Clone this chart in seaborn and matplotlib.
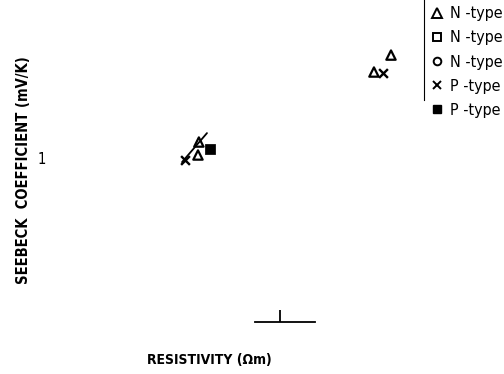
import numpy as np
import pandas as pd
import matplotlib
matplotlib.use("Agg")
import matplotlib.pyplot as plt
from matplotlib.lines import Line2D
import seaborn as sns

# Data (resistivity in Ohm m, Seebeck coefficient in mV/K)
ntri_res = [67.6, 35.4, 0.046, 0.0445]
ntri_see = [19.0, 11.7, 1.58, 1.09]
px_res = [49.9, 0.0272]
px_see = [11.4, 0.94]
psq_res = [0.070]
psq_see = [1.29]
fit_res = [0.0243, 0.0626]
fit_see = [0.89, 2.04]

legend_labels = ["N -type", "N -type", "N -type", "P -type", "P -type"]

sns.set_theme(style="white")
plt.rcParams["font.family"] = ["DejaVu Sans"]
plt.rcParams["font.stretch"] = "condensed"
plt.rcParams["text.color"] = "black"
plt.rcParams["axes.labelcolor"] = "black"
plt.rcParams["xtick.color"] = "black"
plt.rcParams["ytick.color"] = "black"

fig = plt.figure(figsize=(5.04, 3.74), dpi=100)
ax = fig.add_axes([60 / 504, 1 - 322 / 374, 364 / 504, 322 / 374])

ax.set_xscale("log")
ax.set_yscale("log")

sns.scatterplot(x=ntri_res, y=ntri_see, marker="^", s=45, facecolor="none",
                edgecolor="black", linewidth=1.6, ax=ax)
sns.scatterplot(x=px_res, y=px_see, marker="x", s=40, color="black",
                linewidth=1.7, ax=ax)
sns.scatterplot(x=psq_res, y=psq_see, marker="s", s=45, color="black",
                edgecolor="black", ax=ax)
sns.lineplot(x=fit_res, y=fit_see, color="black", linewidth=1.3, ax=ax)

ax.set_xlim(10 ** -3.626, 10 ** 2.374)
ax.set_ylim(10 ** -2.037, 10 ** 1.963)
ax.minorticks_off()

ax.set_xticks([1])
ax.set_xticklabels([""])
ax.set_yticks([1])
ax.set_yticklabels(["1"], fontsize=10.5)
ax.tick_params(axis="x", bottom=True, direction="in", length=9, width=1.3,
               color="black")
ax.tick_params(axis="y", left=False, length=0, pad=10)

for side in ["left", "top"]:
    ax.spines[side].set_visible(False)
ax.spines["bottom"].set_bounds(0.387, 3.77)
ax.spines["bottom"].set_color("black")
ax.spines["bottom"].set_linewidth(1.3)
ax.spines["right"].set_bounds(5.25, 10 ** 1.963)
ax.spines["right"].set_color("black")
ax.spines["right"].set_linewidth(0.8)

ax.set_xlabel("RESISTIVITY (\u03a9m)", fontsize=10, fontweight="bold")
ax.xaxis.set_label_coords(0.409, -0.096)
ax.set_ylabel("SEEBECK  COEFFICIENT (mV/K)", fontsize=10.5, fontweight="bold")
ax.yaxis.set_label_coords(-0.08, 0.472)

handles = [
    Line2D([], [], marker="^", ls="none", mfc="none", mec="black", ms=6.5, mew=1.4),
    Line2D([], [], marker="s", ls="none", mfc="none", mec="black", ms=5.5, mew=1.4),
    Line2D([], [], marker="o", ls="none", mfc="none", mec="black", ms=5.5, mew=1.4),
    Line2D([], [], marker="x", ls="none", color="black", ms=5.5, mew=1.4),
    Line2D([], [], marker="s", ls="none", color="black", ms=6),
]
ax.legend(handles, legend_labels, loc="upper left", bbox_to_anchor=(1.0, 1.0),
          frameon=False, fontsize=11.5, handlelength=0.8, handletextpad=0.45,
          labelspacing=0.57, borderaxespad=0.3, borderpad=0.1)

fig.savefig("out.png", dpi=100)
